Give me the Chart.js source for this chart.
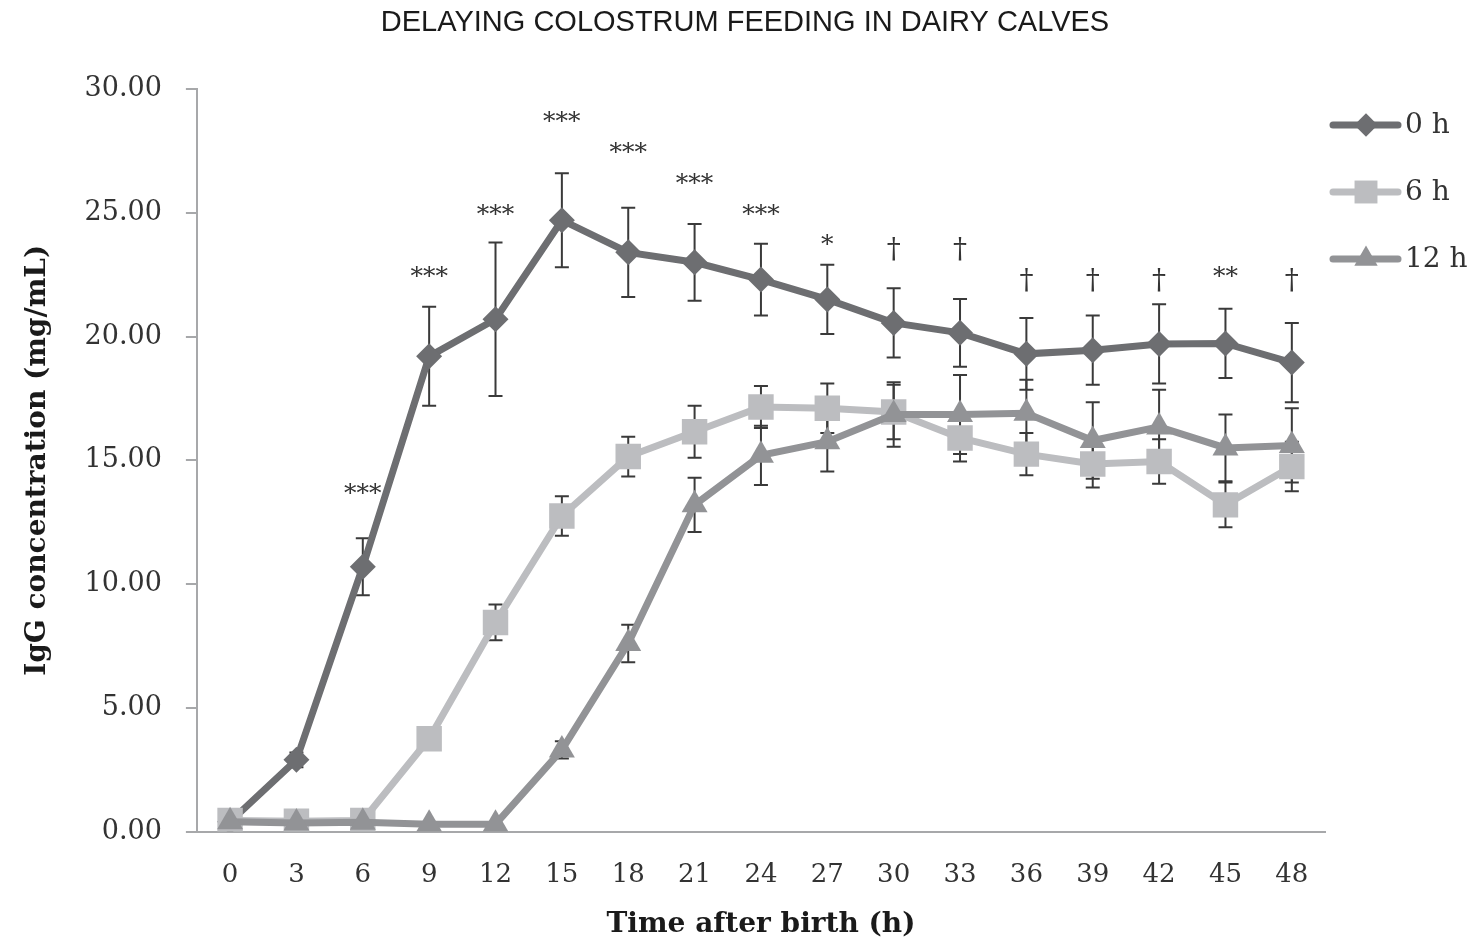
<!DOCTYPE html>
<html>
<head>
<meta charset="utf-8">
<script src="https://cdn.jsdelivr.net/npm/chart.js@4.4.1/dist/chart.umd.min.js"></script>
<style>
  html, body { margin: 0; padding: 0; background: #fff; }
</style>
</head>
<body>
<canvas id="chart" width="1476" height="945"></canvas>
<script>
// time points (h after birth)
const hours = ['0', '3', '6', '9', '12', '15', '18', '21', '24', '27', '30', '33', '36', '39', '42', '45', '48'];

// mean IgG (mg/mL) and error, per feeding delay
const igg0h  = [0.4, 2.9, 10.7, 19.2, 20.7, 24.7, 23.4, 23.0, 22.3, 21.5, 20.55, 20.15, 19.3, 19.45, 19.7, 19.72, 18.95];
const err0h  = [0.2, 0.3, 1.15, 2.0, 3.1, 1.9, 1.8, 1.55, 1.45, 1.4, 1.4, 1.37, 1.45, 1.4, 1.6, 1.4, 1.6];
const igg6h  = [0.45, 0.42, 0.45, 3.75, 8.45, 12.75, 15.15, 16.15, 17.15, 17.1, 16.95, 15.9, 15.25, 14.85, 14.95, 13.2, 14.75];
const err6h  = [0, 0, 0, 0.3, 0.72, 0.8, 0.8, 1.05, 0.85, 1.0, 1.1, 0.95, 0.85, 0.95, 0.9, 0.9, 1.0];
const igg12h = [0.4, 0.35, 0.38, 0.3, 0.3, 3.3, 7.6, 13.2, 15.2, 15.75, 16.85, 16.85, 16.9, 15.8, 16.35, 15.5, 15.6];
const err12h = [0, 0, 0, 0, 0, 0.35, 0.76, 1.1, 1.2, 1.2, 1.3, 1.6, 1.35, 1.55, 1.5, 1.35, 1.5];

// significance marks and the level (mg/mL) they sit at
const sigLabels = ['', '', '***', '***', '***', '***', '***', '***', '***', '*', '†', '†', '†', '†', '†', '**', '†'];
const sigLevel  = [null, null, 13.86, 22.6, 25.1, 28.87, 27.6, 26.35, 25.1, 23.9, 23.55, 23.55, 22.3, 22.3, 22.3, 22.6, 22.3];

const yTicks = [0, 5, 10, 15, 20, 25, 30];

const chartTitle = 'DELAYING COLOSTRUM FEEDING IN DAIRY CALVES';

const serif = "'DejaVu Serif', serif";

const errorBars = {
  id: 'errorBars',
  beforeDatasetsDraw(chart) {
    const ctx = chart.ctx;
    const y = chart.scales.y;
    ctx.save();
    ctx.strokeStyle = '#3a3a3a';
    ctx.lineWidth = 2;
    chart.data.datasets.forEach((ds, di) => {
      const meta = chart.getDatasetMeta(di);
      ds.errors.forEach((e, i) => {
        if (!e) return;
        const px = meta.data[i].x;
        const top = y.getPixelForValue(ds.data[i] + e);
        const bot = y.getPixelForValue(ds.data[i] - e);
        ctx.beginPath();
        ctx.moveTo(px, top); ctx.lineTo(px, bot);
        ctx.moveTo(px - 7, top); ctx.lineTo(px + 7, top);
        ctx.moveTo(px - 7, bot); ctx.lineTo(px + 7, bot);
        ctx.stroke();
      });
    });
    ctx.restore();
  }
};

const sigMarks = {
  id: 'sigMarks',
  afterDatasetsDraw(chart) {
    const ctx = chart.ctx;
    const x = chart.scales.x, y = chart.scales.y;
    ctx.save();
    ctx.fillStyle = '#333';
    ctx.textAlign = 'center';
    ctx.textBaseline = 'alphabetic';
    sigLabels.forEach((t, i) => {
      if (!t) return;
      ctx.font = (t === '†' ? '28px ' : '25px ') + serif;
      const m = ctx.measureText(t);
      const cy = y.getPixelForValue(sigLevel[i]);
      const base = cy + (m.actualBoundingBoxAscent - m.actualBoundingBoxDescent) / 2;
      ctx.fillText(t, x.getPixelForValue(i), base);
    });
    ctx.restore();
  }
};

// title centred on the page rather than on the plot box
const pageTitle = {
  id: 'pageTitle',
  afterDraw(chart) {
    const ctx = chart.ctx;
    ctx.save();
    ctx.fillStyle = '#1a1a1a';
    ctx.font = "29px 'Liberation Sans', Arial, sans-serif";
    ctx.textAlign = 'center';
    ctx.textBaseline = 'middle';
    ctx.fillText(chartTitle, 745, 23);
    ctx.restore();
  }
};

function marker(ctx, style, cx, cy, r) {
  ctx.beginPath();
  if (style === 'rectRot') {
    ctx.moveTo(cx, cy - r); ctx.lineTo(cx + r, cy); ctx.lineTo(cx, cy + r); ctx.lineTo(cx - r, cy);
  } else if (style === 'rect') {
    const s = r * Math.SQRT1_2;
    ctx.rect(cx - s, cy - s, 2 * s, 2 * s);
  } else {
    const h = r * 1.5, w = r * Math.sqrt(3);
    ctx.moveTo(cx, cy - r); ctx.lineTo(cx + w / 2, cy + h - r); ctx.lineTo(cx - w / 2, cy + h - r);
  }
  ctx.closePath();
  ctx.fill();
}

const sideLegend = {
  id: 'sideLegend',
  afterDraw(chart) {
    const ctx = chart.ctx;
    ctx.save();
    chart.data.datasets.forEach((ds, i) => {
      const yy = 125 + i * 67;
      ctx.strokeStyle = ds.borderColor;
      ctx.lineWidth = 7;
      ctx.lineCap = 'round';
      ctx.beginPath();
      ctx.moveTo(1333, yy); ctx.lineTo(1398, yy);
      ctx.stroke();
      ctx.fillStyle = ds.pointBackgroundColor;
      marker(ctx, ds.pointStyle, 1366, yy, ds.pointRadius * 0.9);
      ctx.fillStyle = '#333';
      ctx.font = '28px ' + serif;
      ctx.textAlign = 'left';
      ctx.textBaseline = 'middle';
      ctx.fillText(ds.label, 1405, yy + 1);
    });
    ctx.restore();
  }
};

function series(label, data, errors, color, style, radius, order) {
  return {
    label, data, errors, order,
    borderColor: color,
    backgroundColor: color,
    pointBackgroundColor: color,
    pointBorderColor: color,
    pointBorderWidth: 0,
    pointStyle: style,
    pointRadius: radius,
    borderWidth: 7,
    tension: 0,
    fill: false
  };
}

new Chart(document.getElementById('chart'), {
  type: 'line',
  data: {
    labels: hours,
    datasets: [
      series('0 h', igg0h, err0h, '#6d6e71', 'rectRot', 13, 2),
      series('6 h', igg6h, err6h, '#bcbdc0', 'rect', 18, 1),
      series('12 h', igg12h, err12h, '#929396', 'triangle', 15, 0)
    ]
  },
  options: {
    responsive: false,
    animation: false,
    events: [],
    layout: { padding: { left: 5, right: 151, top: 89, bottom: 0 } },
    plugins: {
      legend: { display: false },
      tooltip: { enabled: false },
      title: { display: false }
    },
    scales: {
      x: {
        type: 'category',
        offset: true,
        grid: { display: true, drawOnChartArea: false, drawTicks: false },
        border: { color: '#a7a8aa', width: 2 },
        ticks: { color: '#333', font: { family: serif, size: 26 }, padding: 28, maxRotation: 0 },
        title: {
          display: true,
          text: 'Time after birth (h)',
          color: '#1a1a1a',
          font: { family: serif, size: 28, weight: 'bold', lineHeight: 0.4 },
          padding: { top: 0, bottom: 15 }
        }
      },
      y: {
        min: 0,
        max: 30,
        afterBuildTicks(scale) { scale.ticks = yTicks.map(v => ({ value: v })); },
        grid: { display: true, drawOnChartArea: false, drawTicks: true, tickLength: 11, color: '#a7a8aa', lineWidth: 2 },
        border: { color: '#a7a8aa', width: 2 },
        ticks: {
          color: '#333',
          font: { family: serif, size: 27 },
          padding: 24,
          callback: v => Number(v).toFixed(2)
        },
        title: {
          display: true,
          text: 'IgG concentration (mg/mL)',
          color: '#1a1a1a',
          font: { family: serif, size: 28, weight: 'bold' },
          padding: { top: 16, bottom: 6 }
        }
      }
    }
  },
  plugins: [errorBars, sigMarks, pageTitle, sideLegend]
});
</script>
</body>
</html>
